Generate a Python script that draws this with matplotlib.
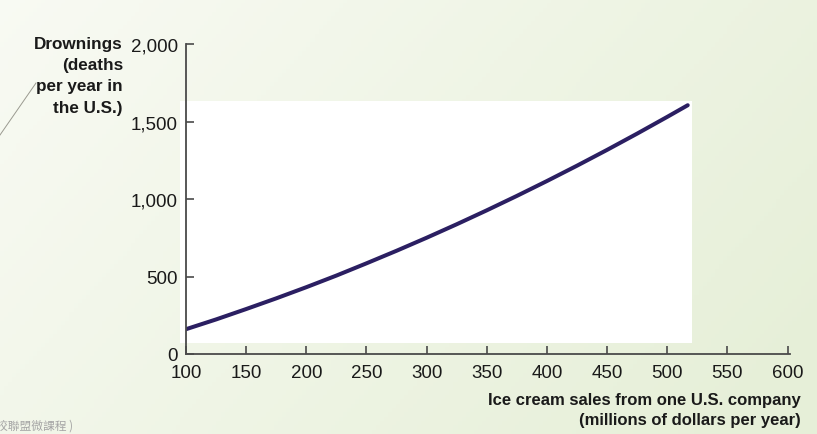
import numpy as np
import matplotlib
matplotlib.use("Agg")
import matplotlib.pyplot as plt
from matplotlib.patches import Rectangle
from matplotlib.lines import Line2D

# values
sales = [100, 125, 150, 175, 200, 225, 250, 275, 300, 325, 350, 375, 400,
         425, 450, 475, 500, 517]
drownings = [160, 223, 290, 359, 431, 506, 585, 666, 750, 837, 927, 1020, 1116,
             1215, 1317, 1422, 1530, 1605]
x_ticks = [100, 150, 200, 250, 300, 350, 400, 450, 500, 550, 600]
y_ticks = [0, 500, 1000, 1500, 2000]
y_ticklabels = ["0", "500", "1,000", "1,500", "2,000"]

W, H = 817, 435
fig = plt.figure(figsize=(W / 100, H / 100), dpi=100)

# slide background: pale green gradient
bg = fig.add_axes([0, 0, 1, 1], zorder=-10)
gx = np.linspace(0, 1, 200)
gy = np.linspace(0, 1, 100)
X, Y = np.meshgrid(gx, gy)
t = np.clip(0.75 * X + 0.35 * Y, 0, 1)
c0 = np.array([0.975, 0.982, 0.955])
c1 = np.array([0.905, 0.940, 0.850])
img = c0[None, None, :] * (1 - t[..., None]) + c1[None, None, :] * t[..., None]
bg.imshow(img, extent=[0, 1, 0, 1], aspect="auto", origin="upper")
bg.set_xlim(0, 1)
bg.set_ylim(0, 1)
bg.axis("off")

# white panel behind the plot
fig.patches.append(Rectangle((180 / W, 1 - 344 / H), 512 / W, 242 / H,
                             transform=fig.transFigure, facecolor="white",
                             edgecolor="none", zorder=-5))
# thin decorative line at left
fig.lines.append(Line2D([0 / W, 36 / W], [1 - 136 / H, 1 - 84 / H],
                        transform=fig.transFigure, color="#9a9a90", lw=0.7))

ax = fig.add_axes([186 / W, 1 - 355 / H, (790 - 186) / W, 310 / H])
ax.patch.set_alpha(0)
ax.plot(sales, drownings, color="#2b1f62", lw=2.9, solid_capstyle="round")
ax.set_xlim(100, 602)
ax.set_ylim(0, 2000)
ax.set_xticks(x_ticks)
ax.set_yticks(y_ticks)
ax.set_yticklabels(y_ticklabels)
for s in ["top", "right"]:
    ax.spines[s].set_visible(False)
for s in ["left", "bottom"]:
    ax.spines[s].set_color("#4a4a4a")
    ax.spines[s].set_linewidth(1.3)
ax.tick_params(direction="in", length=6, width=1.2, color="#4a4a4a",
               labelsize=13.5, labelcolor="#1a1a1a")
ax.tick_params(axis="x", pad=7)
ax.tick_params(axis="y", pad=6)
for lab in ax.get_xticklabels() + ax.get_yticklabels():
    lab.set_family("Liberation Sans")

fig.text(123 / W, 1 - 37 / H, "Drownings\n(deaths\nper year in\nthe U.S.)",
         ha="right", va="top", fontsize=12.3, fontweight="bold",
         family="Liberation Sans", color="#1a1a1a", linespacing=1.52)
fig.text(801 / W, 1 - 393 / H, "Ice cream sales from one U.S. company\n(millions of dollars per year)",
         ha="right", va="top", fontsize=12, fontweight="bold",
         family="Liberation Sans", color="#1a1a1a", linespacing=1.45, multialignment="right")
fig.text(-4 / W, 1 - 426 / H, "校聯盟微課程 )", ha="left", va="center", fontsize=8.5,
         family=["Noto Sans CJK TC", "DejaVu Sans"], color="#a5a5a5")

fig.savefig("out.png", dpi=100)
